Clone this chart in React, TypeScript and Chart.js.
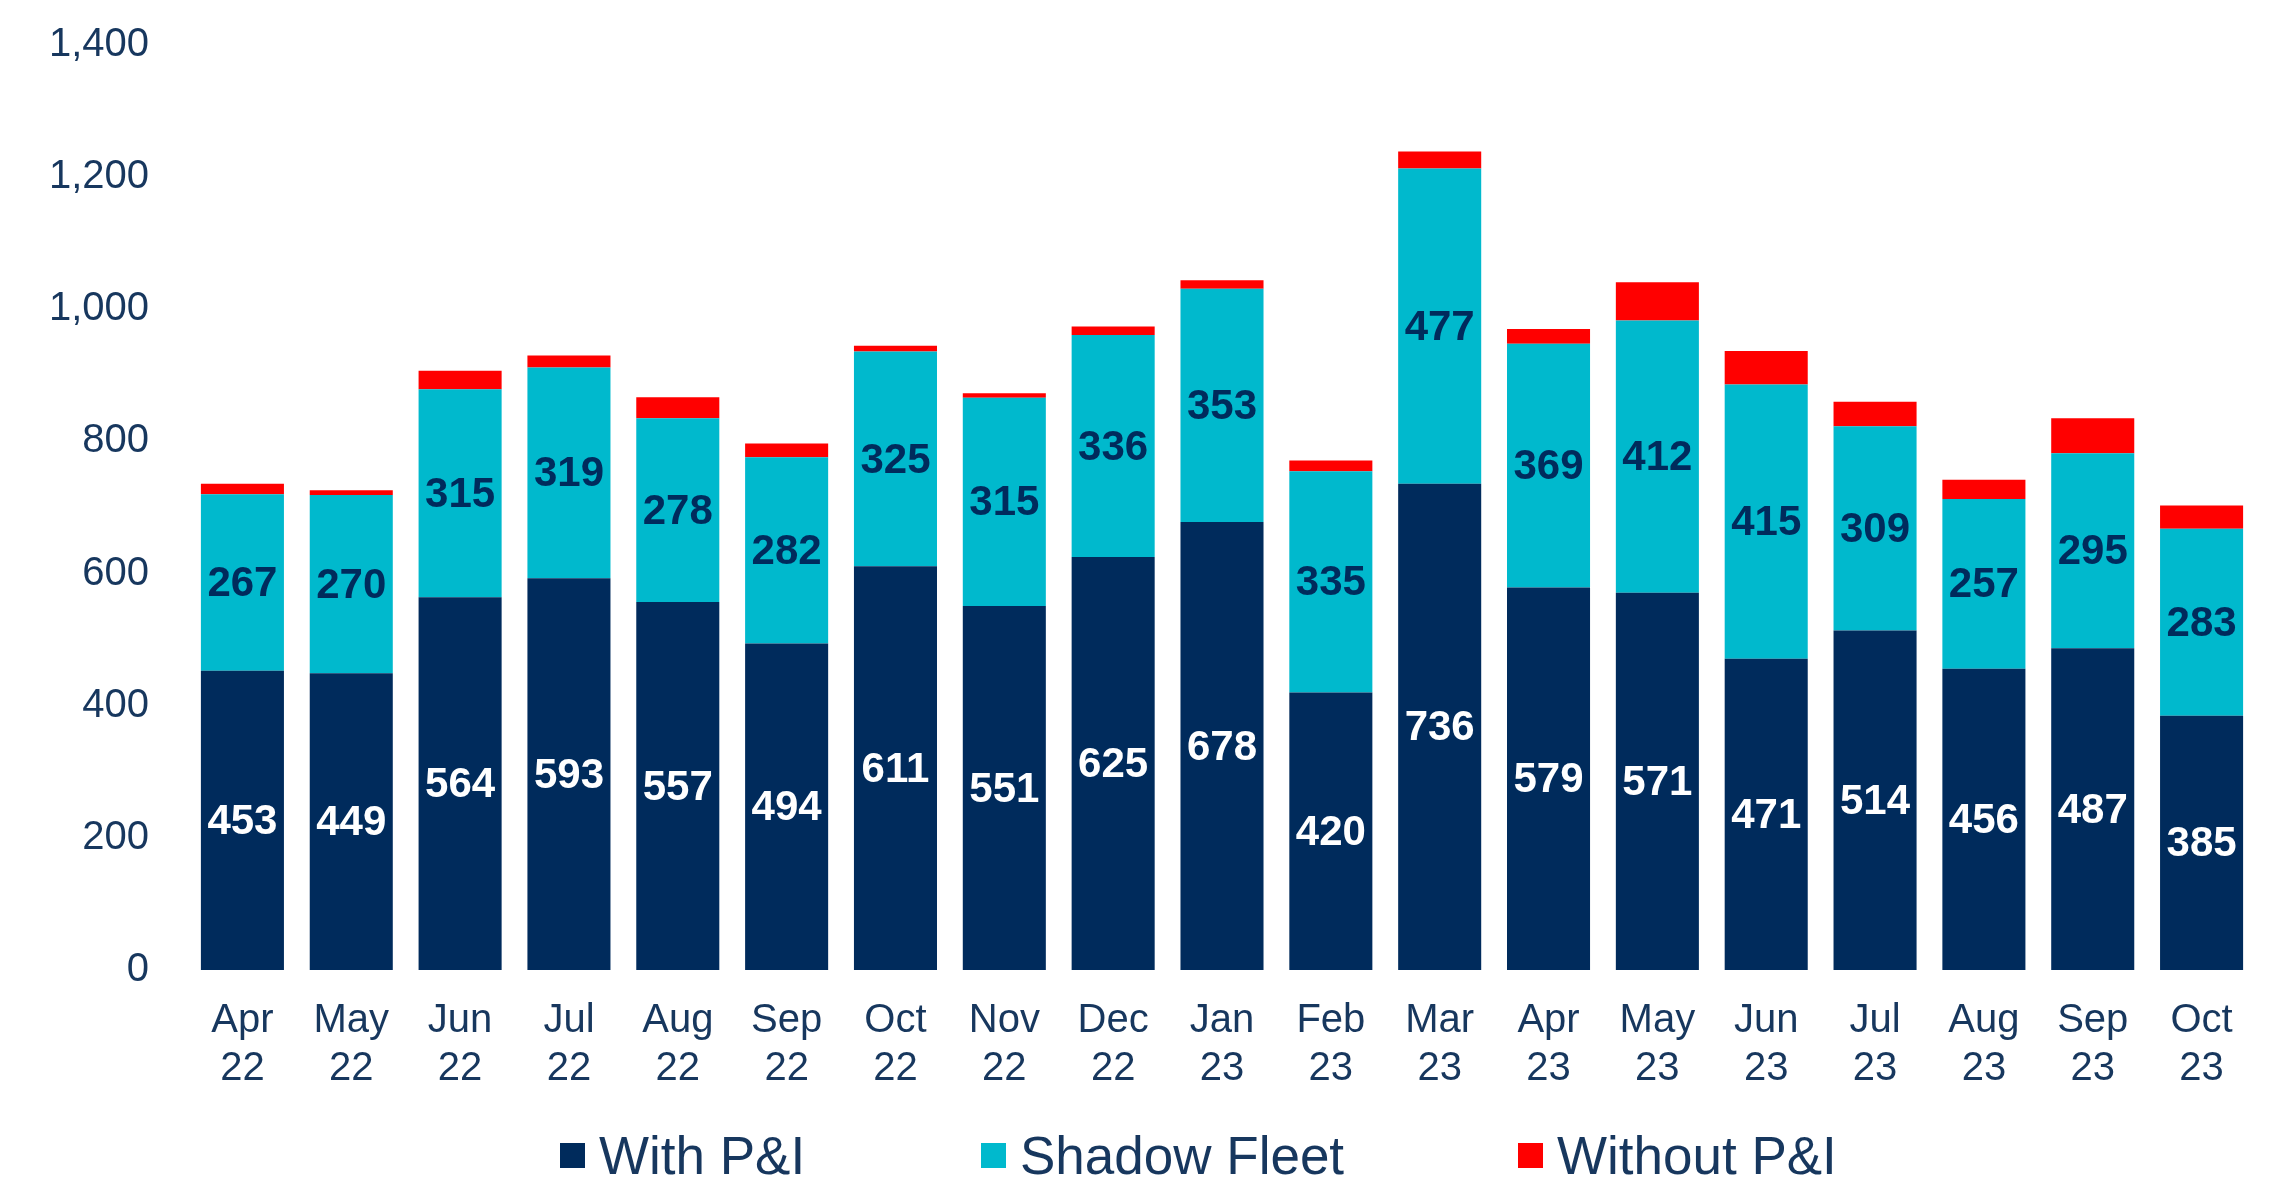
import React, { useEffect, useRef } from "react";
import { Chart, registerables } from "chart.js";

Chart.register(...registerables);

const categories: string[][] = [
  ["Apr", "22"], ["May", "22"], ["Jun", "22"], ["Jul", "22"], ["Aug", "22"], ["Sep", "22"],
  ["Oct", "22"], ["Nov", "22"], ["Dec", "22"], ["Jan", "23"], ["Feb", "23"], ["Mar", "23"],
  ["Apr", "23"], ["May", "23"], ["Jun", "23"], ["Jul", "23"], ["Aug", "23"], ["Sep", "23"], ["Oct", "23"],
];
const withPI = [453, 449, 564, 593, 557, 494, 611, 551, 625, 678, 420, 736, 579, 571, 471, 514, 456, 487, 385];
const shadowFleet = [267, 270, 315, 319, 278, 282, 325, 315, 336, 353, 335, 477, 369, 412, 415, 309, 257, 295, 283];
const withoutPI = [16, 7, 28, 18, 32, 21, 9, 7, 13, 13, 16, 26, 22, 58, 51, 37, 29, 53, 35];
const yTicks = [0, 200, 400, 600, 800, 1000, 1200, 1400];

const NAVY = "#002B5C";
const CYAN = "#00B9CD";
const RED = "#FF0000";
const TEXT = "#17375E";
const FONT = "'Liberation Sans', Arial, sans-serif";

const seriesNames = ["With P&I", "Shadow Fleet", "Without P&I"];
const seriesColors = [NAVY, CYAN, RED];
const labelColors = ["#FFFFFF", NAVY];

const dataLabelPlugin = {
  id: "segLabels",
  afterDatasetsDraw(chart: any) {
    const ctx = chart.ctx;
    ctx.save();
    ctx.font = `bold 42px ${FONT}`;
    ctx.textAlign = "center";
    ctx.textBaseline = "middle";
    [0, 1].forEach((di) => {
      const meta = chart.getDatasetMeta(di);
      const ds = chart.data.datasets[di];
      meta.data.forEach((el: any, i: number) => {
        const { x, y, base } = el.getProps(["x", "y", "base"], true);
        ctx.fillStyle = labelColors[di];
        ctx.fillText(String(ds.data[i]), x, (y + base) / 2 + 2);
      });
    });
    ctx.restore();
  },
};

export default function App() {
  const ref = useRef<HTMLCanvasElement | null>(null);
  useEffect(() => {
    if (!ref.current) return;
    const chart = new Chart(ref.current, {
      type: "bar",
      data: {
        labels: categories,
        datasets: [withPI, shadowFleet, withoutPI].map((d, i) => ({
          label: seriesNames[i],
          data: d,
          backgroundColor: seriesColors[i],
          borderWidth: 0,
          barPercentage: 0.763,
          categoryPercentage: 1,
        })),
      },
      options: {
        animation: false,
        responsive: false,
        maintainAspectRatio: false,
        layout: { padding: { left: 0, right: 17, top: 45, bottom: 0 } },
        plugins: { legend: { display: false }, tooltip: { enabled: false } },
        scales: {
          x: {
            stacked: true,
            grid: { display: false, drawTicks: false },
            border: { display: false },
            ticks: { color: TEXT, font: { family: FONT, size: 40, lineHeight: 1.2 }, padding: 27, maxRotation: 0, autoSkip: false },
          },
          y: {
            stacked: true,
            min: 0,
            max: 1400,
            afterFit: (s: any) => { s.width = 188; s.paddingTop = 0; s.paddingBottom = 0; },
            afterBuildTicks: (s: any) => { s.ticks = yTicks.map((v) => ({ value: v })); },
            grid: { display: false, drawTicks: false },
            border: { display: false },
            ticks: {
              color: TEXT,
              font: { family: FONT, size: 40 },
              padding: 39,
              callback: (v: any) => Number(v).toLocaleString("en-US"),
            },
          },
        },
      },
      plugins: [dataLabelPlugin],
    });
    return () => chart.destroy();
  }, []);

  const legendItems = [
    { x: 560, label: seriesNames[0], color: NAVY },
    { x: 981, label: seriesNames[1], color: CYAN },
    { x: 1518, label: seriesNames[2], color: RED },
  ];

  return (
    <div style={{ position: "absolute", left: 0, top: 0, width: 2273, height: 1177, background: "#fff", overflow: "hidden" }}>
      <canvas ref={ref} width={2273} height={1120} style={{ display: "block", width: 2273, height: 1120 }} />
      {legendItems.map((it) => (
        <div key={it.label} style={{ position: "absolute", left: it.x, top: 1120, height: 70, display: "flex", alignItems: "center", fontFamily: FONT, fontSize: 53, color: TEXT, whiteSpace: "nowrap" }}>
          <span style={{ display: "inline-block", width: 25, height: 25, background: it.color, marginRight: 14 }} />
          <span>{it.label}</span>
        </div>
      ))}
    </div>
  );
}
